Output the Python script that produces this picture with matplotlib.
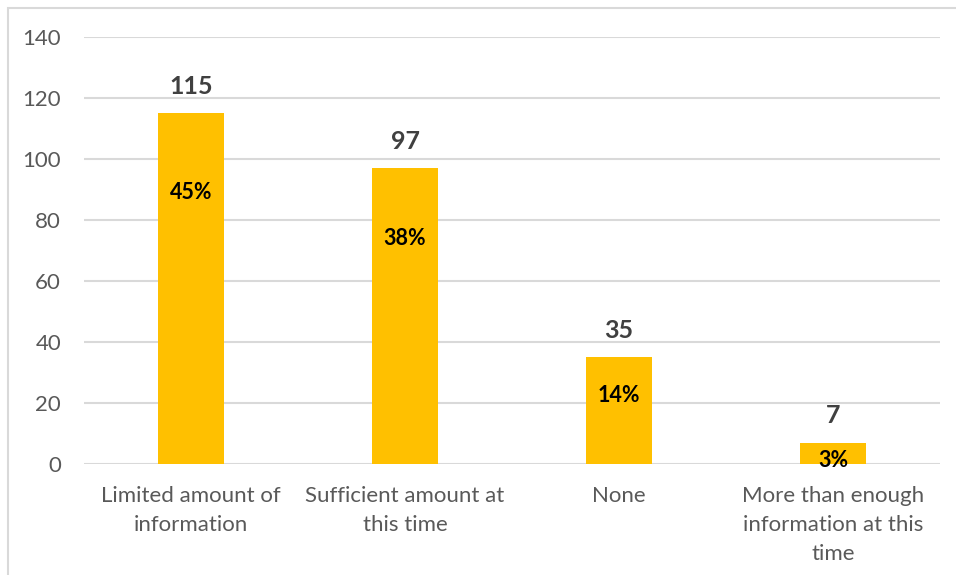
import matplotlib
matplotlib.use("Agg")
import matplotlib.pyplot as plt
from matplotlib.patches import Rectangle

categories = ["Limited amount of\ninformation", "Sufficient amount at\nthis time", "None",
              "More than enough\ninformation at this\ntime"]
counts = [115, 97, 35, 7]
percent_labels = ["45%", "38%", "14%", "3%"]
percent_label_y = [89, 74, 22.6, 1.3]
yticks = [0, 20, 40, 60, 80, 100, 120, 140]

plt.rcParams['font.family'] = ['Lato', 'DejaVu Sans']

fig = plt.figure(figsize=(9.56, 5.75), dpi=100)
ax = fig.add_axes([84/956, 111/575, 856/956, 427/575])

x = list(range(len(categories)))
ax.bar(x, counts, width=0.31, color="#FFC000", zorder=3)
ax.set_xlim(-0.5, len(categories) - 0.5)
ax.set_ylim(0, 140)
ax.set_yticks(yticks)
ax.set_yticklabels([str(v) for v in yticks], fontsize=16, color="#595959")
ax.set_xticks(x)
ax.set_xticklabels(categories, fontsize=16, color="#595959", linespacing=1.55)
ax.tick_params(axis='both', length=0)
ax.tick_params(axis='y', pad=16.5)
ax.tick_params(axis='x', pad=16)
for s in ax.spines.values():
    s.set_visible(False)
ax.grid(axis='y', color="#D9D9D9", linewidth=1.5, zorder=0)

for xi, c, p, py in zip(x, counts, percent_labels, percent_label_y):
    ax.text(xi, c + 5.0, str(c), ha='center', va='bottom', fontsize=18, fontweight='bold',
            color="#404040", zorder=4)
    ax.text(xi, py, p, ha='center', va='center', fontsize=15.5, fontweight='bold',
            color="black", zorder=4)

fig.patches.append(Rectangle((8/956, -0.1), 1.2, (575 - 8)/575 + 0.1, transform=fig.transFigure,
                             fill=False, edgecolor="#D9D9D9", linewidth=1.5))

fig.savefig("out.png", dpi=100)
